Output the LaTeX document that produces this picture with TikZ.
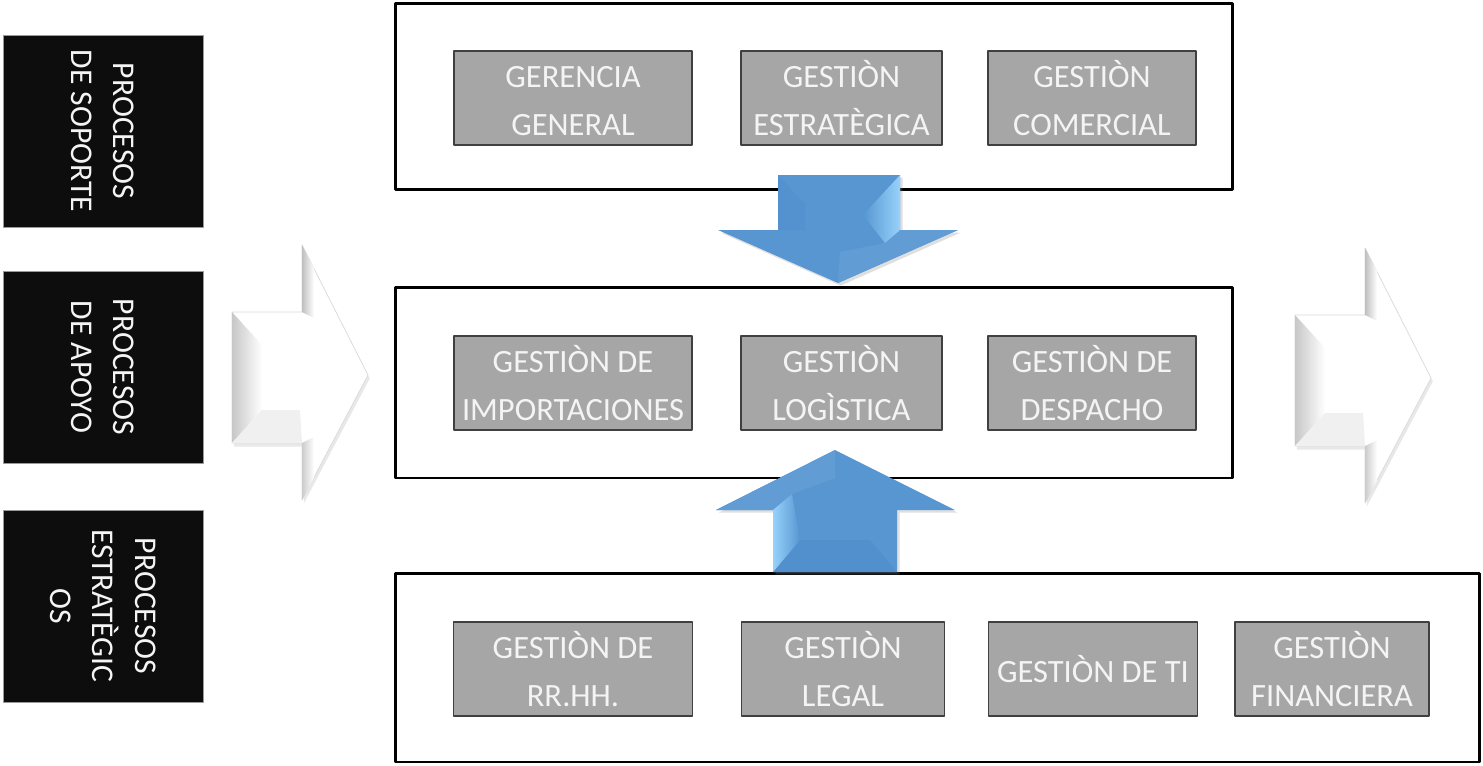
\documentclass[tikz,border=0pt]{standalone}
\usepackage{fontspec}
\setmainfont{Carlito}
\usetikzlibrary{shadows}
\definecolor{boxgray}{RGB}{166,166,166}
\definecolor{txtwhite}{RGB}{244,244,244}
\definecolor{arrowblue}{RGB}{88,150,210}
\definecolor{arrowlight}{RGB}{150,210,250}
\definecolor{arrowdark}{RGB}{74,134,198}
\tikzset{
  procbox/.style={fill=boxgray,draw=black!75,line width=0.8pt,text=txtwhite,align=center,
    font=\fontsize{18.5}{27}\selectfont,minimum height=1.88cm,inner sep=0pt},
  sidebox/.style={fill=black!95,draw=black!40,line width=0.5pt,text=txtwhite,align=center,
    rotate=-90,minimum width=3.84cm,minimum height=4cm,font=\fontsize{18}{24}\selectfont},
  frame/.style={draw=black,line width=1.7pt,inner sep=0pt},
  bluearrow/.style={fill=arrowblue,drop shadow={opacity=0.25,shadow xshift=1.5pt,shadow yshift=-1.5pt}},
  whitearrow/.style={fill=white,draw=black!15,line width=0.4pt,
    drop shadow={opacity=0.18,shadow xshift=1pt,shadow yshift=-2pt}},
}
\begin{document}
\begin{tikzpicture}[x=0.02cm,y=-0.02cm,join=round] % proceso de la empresa
        \useasboundingbox (0,0) rectangle (1483,765);
        % etiquetas laterales
        \node[sidebox] (soporte) at (103,131) {PROCESOS\\DE SOPORTE};
        \node[sidebox] (apoyo) at (103,367) {PROCESOS\\DE APOYO};
        \node[sidebox] (estrat) at (103,606) {PROCESOS\\ESTRATÈGIC\\OS};
        % marcos
        \node[frame,minimum width=16.76cm,minimum height=3.74cm] (frametop) at (814,96.5) {};
        \node[frame,minimum width=16.76cm,minimum height=3.82cm] (framemid) at (814,382.5) {};
        \node[frame,minimum width=21.7cm,minimum height=3.78cm] (framelow) at (937.5,667.5) {};
        % flecha de entrada y salida
        \foreach \dx/\dy in {0/0,1063/3}{
          \begin{scope}[shift={(\dx,\dy)}]
            \filldraw[whitearrow](232,312)--(302,312)--(302,245)--(368,375)--(302,500)--(302,443)--(232,443)--cycle;
            \shade[left color=black!22,right color=white](232,312)--(262,345)--(262,410)--(232,443)--cycle;
            \fill[black!6](232,443)--(262,410)--(300,410)--(302,443)--cycle;
            \shade[left color=black!25,right color=white](302,245)--(314,268)--(314,318)--(302,312)--cycle;
            \shade[left color=black!20,right color=white](302,443)--(314,437)--(314,478)--(302,500)--cycle;
          \end{scope}
        }
        % flecha hacia abajo
        \fill[bluearrow](778,175)--(900,175)--(900,230)--(958,230)--(838,283)--(718,230)--(778,230)--cycle;
        \fill[arrowdark!25!arrowblue](778,175)--(805,204)--(805,230)--(778,230)--cycle;
        \fill[arrowblue!94!white](838,283)--(958,230)--(900,230)--(885,243)--(840,252)--cycle;
        \shade[left color=arrowblue,right color=arrowlight](900,175)--(900,230)--(885,243)--(863,215)--cycle;
        % flecha hacia arriba
        \fill[bluearrow](773,572)--(773,510)--(716,510)--(835,450)--(955,510)--(897,510)--(897,572)--cycle;
        \fill[arrowblue!94!white](716,510)--(835,450)--(835,478)--(792,494)--(773,510)--cycle;
        \fill[arrowdark!40!arrowblue](773,572)--(800,540)--(870,540)--(897,572)--cycle;
        \shade[left color=arrowlight,right color=arrowblue](773,510)--(792,494)--(800,540)--(773,572)--cycle;
        % procesos de soporte
        \node[procbox,minimum width=4.76cm] (gergen) at (573,98) {\vphantom{Ò}GERENCIA\\GENERAL};
        \node[procbox,minimum width=4.02cm] (gesest) at (841.5,98) {GESTIÒN\\ESTRATÈGICA};
        \node[procbox,minimum width=4.16cm] (gescom) at (1092,98) {GESTIÒN\\COMERCIAL};
        % procesos de apoyo
        \node[procbox,minimum width=4.76cm] (gesimp) at (573,383) {GESTIÒN DE\\IMPORTACIONES};
        \node[procbox,minimum width=4.02cm] (geslog) at (841.5,383) {GESTIÒN\\LOGÌSTICA};
        \node[procbox,minimum width=4.16cm] (gesdes) at (1092,383) {GESTIÒN DE\\DESPACHO};
        % procesos estrategicos
        \node[procbox,minimum width=4.78cm] (gesrrhh) at (573,669) {GESTIÒN DE\\RR.HH.};
        \node[procbox,minimum width=4.06cm] (gesleg) at (843,669) {GESTIÒN\\LEGAL};
        \node[procbox,minimum width=4.18cm] (gesti) at (1093,669) {GESTIÒN DE TI};
        \node[procbox,minimum width=3.88cm] (gesfin) at (1332,669) {GESTIÒN\\FINANCIERA};
\end{tikzpicture}
\end{document}
